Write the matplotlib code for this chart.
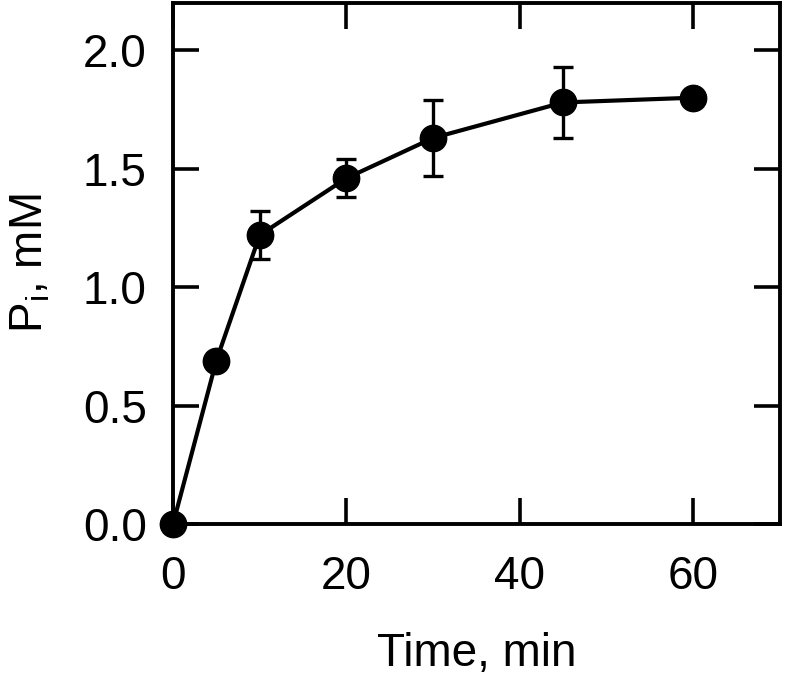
import matplotlib
matplotlib.use('Agg')
import matplotlib.pyplot as plt

# Data
time_min = [0, 5, 10, 20, 30, 45, 60]
pi_mM = [0.0, 0.69, 1.22, 1.46, 1.63, 1.78, 1.80]
pi_err = [0.0, 0.0, 0.10, 0.08, 0.16, 0.15, 0.02]

plt.rcParams['font.family'] = ['Liberation Sans', 'DejaVu Sans']

fig = plt.figure(figsize=(7.85, 6.75), dpi=100)
ax = fig.add_axes([0.2204, 0.2237, 0.7732, 0.7719])

ax.errorbar(time_min, pi_mM, yerr=pi_err, color='black', marker='o',
            markersize=19, linewidth=3.0, elinewidth=2.4, capsize=7.5,
            capthick=2.4, clip_on=False, zorder=3)

ax.set_xlim(0, 70)
ax.set_ylim(0, 2.2)
ax.set_xticks([0, 20, 40, 60])
ax.set_yticks([0.0, 0.5, 1.0, 1.5, 2.0])
ax.set_yticklabels(['0.0', '0.5', '1.0', '1.5', '2.0'])

ax.tick_params(direction='in', length=19, width=2.6, labelsize=33,
               top=True, right=True)
ax.tick_params(axis='y', pad=19)
ax.tick_params(axis='x', pad=22)
for s in ax.spines.values():
    s.set_linewidth(2.8)

ax.set_xlabel('Time, min', fontsize=33, labelpad=24)
ax.set_ylabel('P$_\\mathregular{i}$, mM', fontsize=33, labelpad=22)

fig.savefig('out.png', dpi=100)
